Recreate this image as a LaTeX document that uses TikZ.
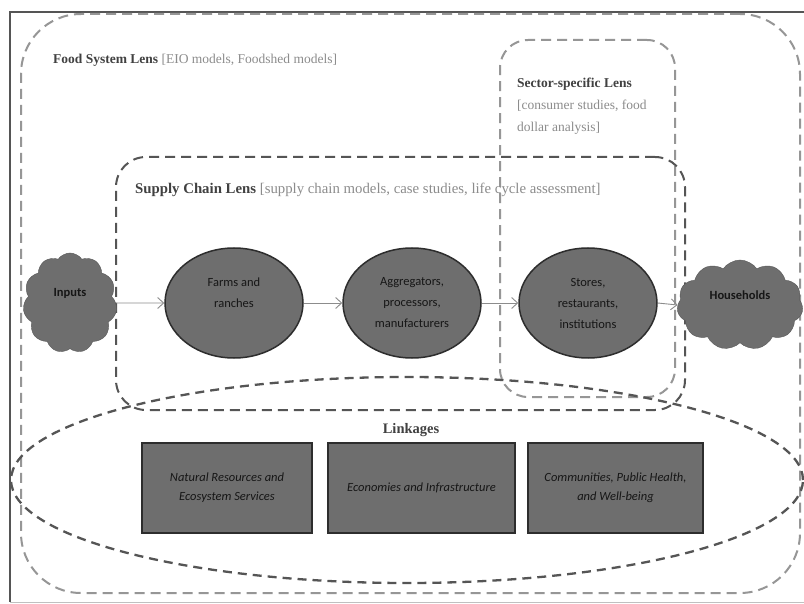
\documentclass[tikz,border=0pt]{standalone}
\usepackage{fontspec}
\setmainfont{Liberation Serif}
\newfontfamily\calib{Carlito}
\usetikzlibrary{shapes.geometric,shapes.symbols,arrows.meta}
\definecolor{shapefill}{RGB}{110,110,110}
\definecolor{shapeedge}{RGB}{45,45,45}
\definecolor{lightlens}{RGB}{150,150,150}
\definecolor{darklens}{RGB}{85,85,85}
\definecolor{titlegray}{RGB}{65,65,65}
\definecolor{subgray}{RGB}{140,140,140}
\definecolor{shapetext}{RGB}{22,22,22}
\definecolor{arrowgray}{RGB}{140,140,140}
\tikzset{
  lens/.style={draw, dash pattern=on 10pt off 6pt, line width=2pt, inner sep=0pt},
  stage/.style={ellipse, draw=shapeedge, line width=1.5pt, fill=shapefill, minimum width=138pt, minimum height=110pt, inner sep=0pt, align=center, font=\calib\fontsize{12.5}{21}\selectfont, text=shapetext},
  endcloud/.style={cloud, draw=shapefill!80!black, fill=shapefill, cloud puffs=11, cloud puff arc=110, inner sep=0pt, text depth=22pt, font=\calib\bfseries\fontsize{12.5}{15}\selectfont, text=shapetext},
  linkbox/.style={rectangle, draw=shapeedge, line width=1.5pt, fill=shapefill, minimum height=90pt, inner sep=2pt, align=center, font=\calib\itshape\fontsize{12.5}{19}\selectfont, text=shapetext},
  flow/.style={draw=arrowgray, line width=0.9pt, -{Straight Barb[length=6pt,width=11pt]}},
  lenstitle/.style={anchor=west, inner sep=0pt, font=\fontsize{13.5}{22}\selectfont}
}
\begin{document}
\begin{tikzpicture}[x=1pt,y=-1pt]
\useasboundingbox (0,0) rectangle (804,604);
\fill[white] (0,0) rectangle (804,604);
% outer frame
\draw[darklens, line width=1.5pt] (810,12) -- (10,12) -- (10,602);
\draw[lightlens!60, line width=1pt] (10,602) -- (810,602);
% lenses
\node[lens, draw=lightlens, rounded corners=60pt, minimum width=779pt, minimum height=579pt] (food) at (410.5,303.5) {};
\node[lens, draw=lightlens, rounded corners=28pt, minimum width=175pt, minimum height=357pt] (sector) at (587.5,218.5) {};
\node[lens, draw=darklens, rounded corners=30pt, minimum width=569pt, minimum height=253pt] (supply) at (400.5,283.5) {};
\node[ellipse, draw=darklens, dash pattern=on 9pt off 6pt, line width=2.3pt, minimum width=792pt, minimum height=206pt, inner sep=0pt] (link) at (407,480) {};
% titles
\node[lenstitle] (foodtitle) at (53,60) {\textcolor{titlegray}{\textbf{Food System Lens}} \textcolor{subgray}{[EIO models, Foodshed models]}};
\node[lenstitle, font=\fontsize{14.8}{22}\selectfont] (supplytitle) at (135,190) {\textcolor{titlegray}{\textbf{Supply Chain Lens}} \textcolor{subgray}{[supply chain models, case studies, life cycle assessment]}};
\node[lenstitle, align=left, anchor=north west] (sectortitle) at (517,78) {\textcolor{titlegray}{\textbf{Sector-specific Lens}}\\ \textcolor{subgray}{[consumer studies, food}\\ \textcolor{subgray}{dollar analysis]}};
\node[inner sep=0pt, font=\bfseries\fontsize{14.5}{16}\selectfont, text=titlegray] (linktitle) at (411,430) {Linkages};
% chain
\node[endcloud, minimum width=94pt, minimum height=100pt, aspect=0.95] (inputs) at (70,303) {Inputs};
\node[stage, text depth=20pt] (farms) at (234,303) {Farms and\\ranches};
\node[stage] (agg) at (412,303) {Aggregators,\\processors,\\manufacturers};
\node[stage] (stores) at (588,303) {Stores,\\restaurants,\\institutions};
\node[endcloud, minimum width=126pt, minimum height=90pt, aspect=1.4, text depth=19pt] (house) at (740,305) {Households};
\draw[flow] (inputs.east) -- (farms.west);
\draw[flow] (farms.east) -- (agg.west);
\draw[flow] (agg.east) -- (stores.west);
\draw[flow] (stores.east) -- (house.west);
% linkages
\node[linkbox, minimum width=170pt] (nat) at (227,488) {Natural Resources and\\Ecosystem Services};
\node[linkbox, minimum width=187pt] (econ) at (421.5,488) {Economies and Infrastructure};
\node[linkbox, minimum width=175pt] (comm) at (615.5,488) {Communities, Public Health,\\and Well-being};
\end{tikzpicture}
\end{document}
